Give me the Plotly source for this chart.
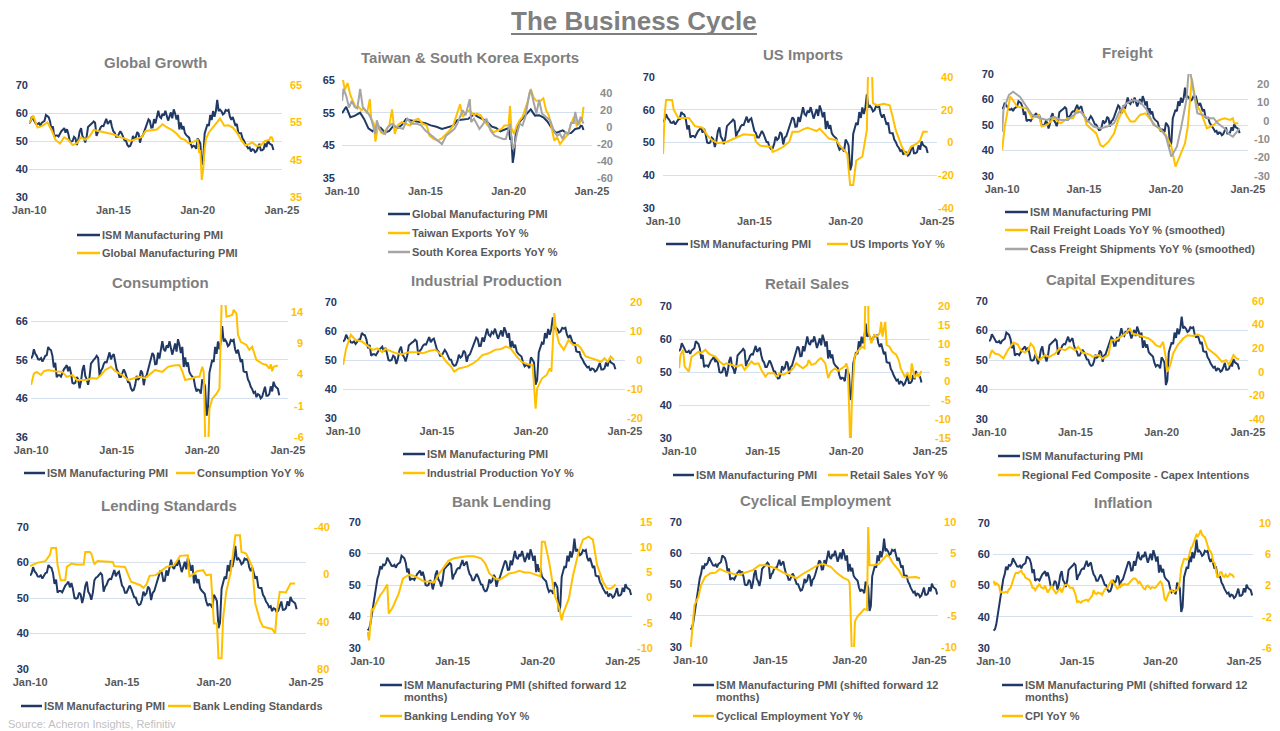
import pandas as pd
import plotly.graph_objects as go

W, H = 1280, 731
NAVY = "#1F3864"
GOLD = "#FFC000"
GREY = "#A5A5A5"
RGREY = "#8C8C8C"
GRID = "#D5E0EE"
TXT = "#595959"
TTL = "#7F7F7F"
FONT = "Liberation Sans, Arial, sans-serif"

# ---------------- data ----------------
# ISM Manufacturing PMI, monthly Jan-2009 .. Jul-2024
ism_start = "2009-01-01"
ism = [35.6, 36.0, 37.5, 40.5, 43.5, 45.5, 48.5, 52.0, 53.5, 56.0, 55.0, 56.5,
       56.3, 57.0, 58.7, 57.5, 57.0, 56.1, 56.0, 56.4, 55.5, 56.5, 57.0, 57.2,
       59.3, 58.7, 58.5, 57.0, 54.0, 55.2, 51.5, 52.0, 52.0, 51.6, 52.8, 53.5,
       54.0, 54.6, 53.0, 54.2, 52.5, 50.0, 49.8, 50.0, 51.5, 51.0, 48.6, 50.4,
       53.4, 54.6, 51.8, 51.0, 49.5, 51.5, 55.0, 55.7, 56.0, 56.4, 57.0, 56.5,
       51.8, 53.2, 53.7, 54.9, 55.4, 55.3, 56.4, 57.9, 56.1, 57.0, 57.4, 55.1,
       53.5, 52.9, 51.5, 51.5, 52.8, 53.5, 52.7, 51.1, 50.2, 50.1, 48.6, 48.0,
       48.2, 49.5, 51.8, 50.8, 51.3, 53.2, 52.6, 49.4, 51.5, 51.9, 53.2, 54.5,
       56.0, 57.7, 57.2, 54.8, 54.9, 57.8, 56.3, 58.8, 60.8, 58.7, 58.2, 59.7,
       59.1, 60.8, 59.3, 57.3, 58.7, 60.2, 58.1, 61.3, 59.8, 57.7, 59.3, 54.1,
       56.6, 54.2, 55.3, 52.8, 52.1, 51.7, 51.2, 49.1, 47.8, 48.3, 48.1, 47.2,
       50.9, 50.1, 49.1, 41.5, 43.1, 52.6, 54.2, 56.0, 55.4, 59.3, 57.5, 60.7,
       58.7, 60.8, 64.7, 60.7, 61.2, 60.6, 59.5, 59.9, 61.1, 60.8, 61.1, 58.7,
       57.6, 58.6, 57.1, 55.4, 56.1, 53.0, 52.8, 52.8, 50.9, 50.2, 49.0, 48.4,
       47.4, 47.7, 46.3, 47.1, 46.9, 46.0, 46.4, 47.6, 49.0, 46.7, 46.7, 47.1,
       49.1, 47.8, 50.3, 49.2, 48.7, 48.5, 46.8]

# CPI YoY %, monthly Jan-2010 .. Jun-2024
cpi_start = "2010-01-01"
cpi = [2.6, 2.1, 2.3, 2.2, 2.0, 1.1, 1.2, 1.1, 1.1, 1.2, 1.1, 1.5,
       1.6, 2.1, 2.7, 3.2, 3.6, 3.6, 3.6, 3.8, 3.9, 3.5, 3.4, 3.0,
       2.9, 2.9, 2.7, 2.3, 1.7, 1.7, 1.4, 1.7, 2.0, 2.2, 1.8, 1.7,
       1.6, 2.0, 1.5, 1.1, 1.4, 1.8, 2.0, 1.5, 1.2, 1.0, 1.2, 1.5,
       1.6, 1.1, 1.5, 2.0, 2.1, 2.1, 2.0, 1.7, 1.7, 1.7, 1.3, 0.8,
       -0.1, 0.0, -0.1, -0.2, 0.0, 0.1, 0.2, 0.2, 0.0, 0.2, 0.5, 0.7,
       1.4, 1.0, 0.9, 1.1, 1.0, 1.0, 0.8, 1.1, 1.5, 1.6, 1.7, 2.1,
       2.5, 2.7, 2.4, 2.2, 1.9, 1.6, 1.7, 1.9, 2.2, 2.0, 2.2, 2.1,
       2.1, 2.2, 2.4, 2.5, 2.8, 2.9, 2.9, 2.7, 2.3, 2.5, 2.2, 1.9,
       1.6, 1.5, 1.9, 2.0, 1.8, 1.6, 1.8, 1.7, 1.7, 1.8, 2.1, 2.3,
       2.5, 2.3, 1.5, 0.3, 0.1, 0.6, 1.0, 1.3, 1.4, 1.2, 1.2, 1.4,
       1.4, 1.7, 2.6, 4.2, 5.0, 5.4, 5.4, 5.3, 5.4, 6.2, 6.8, 7.0,
       7.5, 7.9, 8.5, 8.3, 8.6, 9.1, 8.5, 8.3, 8.2, 7.7, 7.1, 6.5,
       6.4, 6.0, 5.0, 4.9, 4.0, 3.0, 3.2, 3.7, 3.7, 3.2, 3.1, 3.4,
       3.1, 3.2, 3.5, 3.4, 3.3, 3.0]

gpmi_dates = ["2010-01","2010-04","2010-07","2010-10","2011-02","2011-05","2011-08","2011-11","2012-02","2012-05","2012-08","2012-11","2013-02","2013-05","2013-08","2013-11","2014-02","2014-06","2014-10","2015-01","2015-05","2015-09","2016-01","2016-05","2016-09","2016-12","2017-04","2017-08","2017-12","2018-03","2018-07","2018-10","2019-01","2019-04","2019-07","2019-10","2020-01","2020-02","2020-03","2020-04","2020-05","2020-06","2020-07","2020-09","2020-12","2021-03","2021-05","2021-08","2021-11","2022-02","2022-05","2022-08","2022-11","2023-01","2023-04","2023-07","2023-10","2024-01","2024-04","2024-05","2024-06","2024-07"]
gpmi = [54.8,56.8,53.6,54.0,55.0,53.0,50.2,49.3,51.0,50.3,48.9,49.4,51.0,50.3,51.2,53.0,52.7,52.4,52.2,51.8,51.1,50.7,50.0,50.4,51.0,52.7,52.8,53.1,54.5,53.7,52.9,52.0,50.7,50.3,49.3,49.8,50.3,47.1,47.3,39.6,42.4,47.8,50.6,52.3,53.8,55.0,56.0,54.1,54.2,53.6,52.3,50.3,48.8,49.1,49.6,48.7,48.8,50.0,50.3,51.0,50.9,49.7]

tw_dates = ["2010-01","2010-03","2010-05","2010-07","2010-09","2010-11","2011-01","2011-03","2011-05","2011-07","2011-09","2011-10","2011-12","2012-01","2012-03","2012-05","2012-07","2012-09","2012-11","2013-01","2013-03","2013-05","2013-08","2013-11","2014-02","2014-05","2014-08","2014-11","2015-02","2015-04","2015-07","2015-10","2016-01","2016-04","2016-07","2016-09","2016-11","2017-02","2017-04","2017-07","2017-09","2017-12","2018-02","2018-05","2018-07","2018-10","2018-12","2019-02","2019-05","2019-08","2019-10","2020-01","2020-02","2020-03","2020-05","2020-07","2020-09","2020-11","2021-01","2021-03","2021-05","2021-07","2021-09","2021-12","2022-02","2022-04","2022-06","2022-08","2022-10","2022-12","2023-02","2023-04","2023-06","2023-08","2023-10","2023-12","2024-02","2024-04","2024-06","2024-07"]
tw = [62,44,52,38,30,23,24,20,22,16,33,10,4,-17,2,-6,-8,-2,2,21,-8,2,6,4,2,8,10,4,2,-10,-14,-16,-13,-8,-3,2,12,27,12,18,20,14,16,14,8,2,-2,-6,-4,-2,2,2,25,-1,-8,2,8,12,22,31,45,35,31,31,34,20,14,0,-16,-12,-20,-16,-12,-8,4,12,2,4,10,24]

kr_dates = ["2010-01","2010-02","2010-04","2010-06","2010-08","2010-10","2010-12","2011-02","2011-04","2011-06","2011-08","2011-10","2012-01","2012-02","2012-04","2012-06","2012-08","2012-10","2013-01","2013-04","2013-09","2013-12","2014-03","2014-07","2014-10","2015-01","2015-04","2015-07","2015-10","2016-01","2016-04","2016-07","2016-10","2016-12","2017-02","2017-04","2017-06","2017-09","2017-10","2017-12","2018-02","2018-04","2018-06","2018-09","2018-12","2019-03","2019-06","2019-09","2019-11","2020-01","2020-02","2020-04","2020-05","2020-07","2020-09","2020-11","2021-01","2021-04","2021-05","2021-07","2021-09","2021-11","2022-01","2022-04","2022-07","2022-10","2022-12","2023-02","2023-04","2023-06","2023-08","2023-10","2023-12","2024-01","2024-03","2024-05","2024-07"]
kr = [31,45,37,23,31,24,22,45,23,20,16,10,-8,8,-2,-6,-8,0,4,0,-2,10,4,4,2,-4,-8,-12,-16,-20,-10,-6,-2,4,12,20,14,33,6,10,4,-2,2,10,-4,-10,-12,-14,-14,-2,4,-25,-24,-8,4,2,12,40,44,30,16,32,16,12,8,-6,-10,-8,-14,-6,-8,5,5,18,3,12,4]

imp_dates = ["2010-01","2010-02","2010-03","2010-07","2010-08","2010-11","2011-06","2011-10","2012-03","2012-06","2012-09","2013-01","2013-07","2014-02","2014-06","2015-01","2015-02","2015-05","2015-12","2016-01","2016-04","2016-08","2016-12","2017-02","2017-06","2017-09","2017-12","2018-03","2018-06","2018-08","2018-11","2019-02","2019-07","2019-09","2020-02","2020-04","2020-06","2020-08","2020-12","2021-03","2021-04","2021-06","2021-07","2021-10","2022-02","2022-06","2022-08","2022-10","2023-02","2023-05","2023-08","2023-12","2024-02","2024-04","2024-07"]
imp = [-7,17,26,26,20,15,15,10,9,4.5,1.5,-0.5,0.5,3.5,5,4.5,0.5,-2,-2.6,-5.7,-4.7,-2.6,0.5,6.5,6.5,8,9,8,7,8.5,5.5,2.4,1.4,-1.6,-6.7,-26,-26,-11,-8.7,7.5,55,55,24,22.7,23.7,22.7,15.6,7.5,-2.6,-7.7,-2.6,-0.6,1.4,6.5,6.5]

rail_dates = ["2010-01","2010-03","2010-07","2010-09","2010-12","2011-07","2011-11","2012-04","2012-06","2012-10","2013-03","2013-08","2014-01","2014-05","2014-08","2015-01","2015-03","2015-07","2015-10","2016-01","2016-03","2016-07","2016-11","2017-02","2017-06","2017-08","2017-11","2018-02","2018-06","2018-10","2019-01","2019-05","2019-09","2020-01","2020-05","2020-08","2020-11","2021-03","2021-05","2021-08","2021-11","2022-03","2022-07","2022-12","2023-04","2023-08","2023-12","2024-02","2024-03","2024-06"]
rail = [-16,-3.2,13,11.2,7.6,6.7,1.3,3.1,-3.2,-2.3,1.3,-1.4,1.3,1.3,5.8,3.1,-2.3,-5.1,-6.9,-13.2,-14.1,-11.4,-6.9,0.4,6.7,3.1,-0.5,-0.5,3.1,4,1.3,-2.3,-5.1,-7.8,-14.1,-24.9,-19.5,-12.3,-3.2,22.9,9.4,4,-4.2,-2.3,0.4,1.3,0.4,1.3,-1.4,-1.4]

cass_dates = ["2010-01","2010-02","2010-06","2010-09","2011-02","2011-07","2011-11","2012-05","2012-10","2013-03","2013-08","2014-01","2014-07","2014-11","2015-03","2015-08","2016-01","2016-06","2016-11","2017-03","2017-08","2018-01","2018-06","2018-11","2019-04","2019-09","2020-01","2020-05","2020-09","2020-12","2021-04","2021-06","2021-09","2021-12","2022-04","2022-08","2022-12","2023-03","2023-08","2023-12","2024-02","2024-05","2024-07"]
cass = [-6,5.8,13.9,15.7,13,7.6,3.1,1.3,0.4,2.2,0.4,0.4,4,4.9,0.4,-3.2,-4.2,-3.2,-1.4,4.9,9.4,11.2,10.3,5.8,-2.3,-4.2,-8.7,-19.5,-14.1,-4.2,11.2,30,16.6,4,3.1,1.3,1.3,-1.4,-4.2,-7.8,-8.7,-6,-4.2]

cons_dates = ["2010-01","2010-03","2010-05","2010-08","2010-10","2011-01","2011-06","2011-11","2012-02","2012-06","2012-09","2013-01","2013-04","2013-08","2013-11","2014-02","2014-05","2014-09","2014-12","2015-05","2015-09","2015-12","2016-05","2016-09","2017-01","2017-04","2017-09","2018-01","2018-05","2018-09","2018-11","2019-01","2019-05","2019-09","2019-11","2020-01","2020-02","2020-03","2020-04","2020-05","2020-06","2020-08","2020-11","2021-01","2021-03","2021-04","2021-05","2021-06","2021-10","2021-11","2022-01","2022-02","2022-04","2022-08","2022-10","2022-12","2023-03","2023-05","2023-07","2023-10","2023-12","2024-01","2024-02","2024-03","2024-06"]
cons = [2.3,4.1,4.4,3.9,4.5,4.7,4.5,4.4,3.6,3.9,3.1,3.1,3.1,3.4,3.3,3.9,4.7,5.2,4.5,3.9,3.1,3.3,3.6,3.4,4.1,4.7,4.4,5.2,5.4,5.5,4.5,3.1,3.3,3.6,3.6,5.2,4.4,-12,-16,-9,-1.5,0.1,0.9,1.7,22,28,16,13.2,13.5,14.3,13.7,10.3,9.2,8.7,7.9,8.4,6.3,6.0,5.7,5.5,4.9,5.6,4.5,5.2,5.4]

ip_dates = ["2010-01","2010-02","2010-03","2010-06","2010-09","2011-01","2011-05","2011-08","2011-11","2012-02","2012-04","2012-07","2012-11","2013-03","2013-07","2013-12","2014-04","2014-08","2014-12","2015-04","2015-07","2015-10","2015-12","2016-03","2016-08","2016-12","2017-03","2017-06","2017-10","2018-02","2018-06","2018-09","2018-12","2019-04","2019-07","2019-11","2020-02","2020-04","2020-05","2020-08","2020-11","2021-01","2021-02","2021-04","2021-05","2021-07","2021-10","2022-01","2022-04","2022-07","2022-09","2022-12","2023-04","2023-07","2023-10","2023-12","2024-02","2024-04","2024-06"]
ip = [-1.7,1.7,4,8.7,6.9,6.4,4.6,3.5,4,2.7,3.8,3.1,2.3,2,2.7,2.7,2.3,3.1,3.5,1.7,-0.6,-2.3,-4,-2.9,-2.3,-1.2,0,1.7,2.3,3.5,3.8,4.6,4,1.2,-0.6,-1.5,-1.7,-16.8,-9.8,-6.4,-5.2,-2.9,-4.0,16.2,10.4,5.8,3.5,6.9,5.2,5.2,4,1.2,0.6,0,-0.6,0.6,-0.6,1.2,0]

ret_dates = ["2010-01","2010-02","2010-04","2010-05","2010-08","2010-10","2010-12","2011-03","2011-05","2011-08","2011-10","2011-12","2012-03","2012-06","2012-09","2012-11","2013-03","2013-06","2013-10","2013-12","2014-03","2014-05","2014-07","2014-10","2014-12","2015-03","2015-05","2015-09","2015-11","2016-01","2016-04","2016-06","2016-09","2016-11","2017-01","2017-04","2017-06","2017-09","2017-10","2017-12","2018-03","2018-05","2018-07","2018-10","2018-12","2019-02","2019-05","2019-07","2019-10","2019-12","2020-01","2020-02","2020-03","2020-04","2020-05","2020-06","2020-07","2020-09","2020-12","2021-02","2021-03","2021-04","2021-05","2021-07","2021-09","2021-11","2022-01","2022-02","2022-03","2022-05","2022-06","2022-08","2022-10","2023-01","2023-03","2023-04","2023-07","2023-09","2023-11","2023-12","2024-02","2024-04","2024-05","2024-07"]
ret = [3.5,7,8.4,4,2.6,6.6,7,7.9,7.5,8.4,7.5,7,6.6,5.3,4.4,4.8,4.4,4,4.4,3.1,4.4,5.3,4.6,4.8,3.1,1.3,2.2,2.2,1.3,2.2,1.8,2.2,2.8,3.5,4.8,4,3.5,4.4,5.7,4.4,4.8,5.7,6.2,4.8,0.9,2.6,3.5,2.8,3.5,4,4.8,3.5,-6,-20,-6,2,6.6,7.9,9.2,8.8,30,50,13.2,10.1,12.3,11.9,12.8,15.8,11.9,15.8,9.7,9.2,7.9,7,5.3,3.5,1.3,2.2,0.4,4.8,0.9,2.2,1.3,2.8]

capex_dates = ["2010-01","2010-03","2010-05","2010-08","2010-11","2011-02","2011-06","2011-09","2011-11","2012-02","2012-04","2012-06","2012-08","2012-10","2012-12","2013-04","2013-07","2013-11","2014-02","2014-06","2014-09","2015-01","2015-03","2015-06","2015-11","2016-01","2016-05","2016-08","2016-12","2017-02","2017-05","2017-09","2017-12","2018-03","2018-05","2018-09","2018-12","2019-04","2019-07","2019-09","2019-12","2020-02","2020-04","2020-05","2020-07","2020-09","2020-12","2021-04","2021-07","2021-11","2022-02","2022-06","2022-09","2022-12","2023-03","2023-07","2023-10","2023-12","2024-03","2024-05","2024-07"]
capex = [11.3,18.3,15.5,14.6,11.3,18.3,24.8,23.1,18.3,16.3,18.3,23.9,21.1,12.7,9.9,14.1,12.7,15.5,19.7,18.3,21.1,18.3,21.1,16.3,14.6,12.7,14.1,11.3,14.1,26.8,26.8,29.6,32.4,36.6,32.4,31,29.6,28.2,25.4,22.5,21.1,25.4,11.3,0,5.6,15.5,22.5,28.2,31,30.4,31.5,29.6,19.7,16.9,14.1,8.5,9.9,5.6,14.1,11.3,10.7]

lend_dates = ["2010-01","2010-03","2010-06","2010-11","2011-02","2011-03","2011-06","2011-07","2011-09","2011-12","2012-01","2012-04","2012-07","2012-12","2013-01","2013-04","2013-05","2013-07","2013-09","2014-07","2014-08","2015-03","2015-07","2016-01","2016-03","2016-05","2016-07","2016-11","2017-03","2017-06","2017-11","2018-03","2018-08","2018-09","2019-02","2019-06","2019-08","2019-11","2020-01","2020-03","2020-04","2020-06","2020-07","2020-09","2020-12","2021-03","2021-06","2021-07","2021-10","2022-02","2022-04","2022-07","2022-09","2023-03","2023-05","2023-06","2023-08","2023-12","2024-03","2024-06"]
lend = [-7,-8.3,-9.9,-11.1,-16.7,-22.3,-22.3,-7.7,4.9,4.9,-6.3,-9.1,-8.3,-8.3,-18.9,-18.9,-17.5,-8.5,-11.3,-10.5,-6.9,-6.3,6.3,9.2,11.4,8.6,1.3,0.7,-3.5,-6.3,-7.7,-15.6,-16.1,2.1,-2.6,-3.5,0.7,0.2,41.5,41.5,71,71,37.2,14.8,-2.1,-33,-33,-18.9,-17.5,-6.3,24.6,38.7,44.3,46.2,49.9,33,14.8,15.3,7.8,7.8]

bl_dates = ["2010-01","2010-02","2010-04","2010-05","2010-07","2010-10","2010-12","2011-03","2011-04","2011-07","2011-11","2012-02","2012-06","2012-09","2013-01","2013-05","2013-08","2013-12","2014-03","2014-07","2014-10","2015-02","2015-07","2015-11","2016-04","2016-09","2016-12","2017-03","2017-07","2017-10","2018-02","2018-05","2018-09","2018-12","2019-04","2019-07","2019-11","2020-03","2020-04","2020-06","2020-09","2020-11","2021-01","2021-04","2021-06","2021-07","2021-11","2022-02","2022-06","2022-09","2023-01","2023-04","2023-07","2023-11","2024-02","2024-05","2024-08"]
bl = [-6.8,-8.5,-2.2,-2.5,-1.2,0.5,1.2,2.6,-3.2,-1.8,0.8,3.8,4.5,4.4,3.8,3.2,3.2,3.0,4.5,6.2,7.3,7.8,8.0,8.2,8.2,7.8,6.8,4.8,3.8,3.5,4.2,4.8,5.0,5.3,5.0,5.0,4.6,4.2,11.1,11.1,7.2,4.2,0.5,-1.8,-4.5,-3.2,-0.2,4.5,9.1,11.5,12.1,11.5,6.5,3.2,1.8,1.8,2.6]

cyc_dates = ["2010-01","2010-02","2010-04","2010-07","2010-09","2010-12","2011-04","2011-08","2011-11","2012-03","2012-07","2012-11","2013-02","2013-07","2013-12","2014-05","2014-10","2015-02","2015-06","2015-11","2016-04","2016-09","2017-01","2017-05","2017-10","2018-01","2018-05","2018-08","2018-11","2019-03","2019-08","2019-12","2020-01","2020-03","2020-04","2020-05","2020-07","2020-10","2020-12","2021-02","2021-03","2021-04","2021-07","2021-11","2022-02","2022-05","2022-07","2022-10","2023-02","2023-05","2023-09","2024-01","2024-03","2024-06"]
cyc = [-10.5,-7.5,-3.3,-2.0,-0.1,1.2,1.8,1.9,2.5,2.1,1.8,1.6,1.6,1.9,2.3,3.1,3.1,2.8,2.5,1.9,1.5,1.0,1.6,2.1,2.7,3.1,3.3,3.1,2.8,1.9,1.1,0.7,0.2,-13,-12,-5.9,-5.1,-4.4,-3.9,-4.1,9.2,3.1,3.1,3.3,4.1,4.7,4.4,3.3,2.3,1.2,1.1,1.1,1.2,1.0]

x_tick_vals = ["2010-01-01", "2015-01-01", "2020-01-01", "2025-01-01"]
x_tick_text = ["Jan-10", "Jan-15", "Jan-20", "Jan-25"]

# ---------------- helpers ----------------
def md(lst):
    return pd.to_datetime([s + "-01" for s in lst])

def monthly(start, n):
    return pd.date_range(start, periods=n, freq="MS")

for a, b in [(gpmi_dates, gpmi), (tw_dates, tw), (kr_dates, kr), (imp_dates, imp), (rail_dates, rail),
             (cass_dates, cass), (cons_dates, cons), (ip_dates, ip), (ret_dates, ret), (capex_dates, capex),
             (lend_dates, lend), (bl_dates, bl), (cyc_dates, cyc)]:
    assert len(a) == len(b), (len(a), len(b))

ism_x_all = monthly(ism_start, len(ism))
ISM = (ism_x_all[12:], ism[12:])
ISM_FWD = (monthly("2010-01-01", len(ism)), ism)
CPI = (monthly(cpi_start, len(cpi)), cpi)

XR = ["2009-12-30", "2025-01-03"]
XR_FWD = ["2009-12-20", "2025-07-20"]
Y_STD = dict(range=[30, 70], ticks=[30, 40, 50, 60, 70])

panels = [
    dict(title="Global Growth", tpos=(155, 63), box=(29, 282, 85, 197), xr=XR,
         left=Y_STD, right=dict(range=[35, 65], ticks=[35, 45, 55, 65], color=GOLD), gapL=1, gapR=10,
         series=[(ISM, NAVY, "L", "ISM Manufacturing PMI"), ((md(gpmi_dates), gpmi), GOLD, "R", "Global Manufacturing PMI")],
         legend=[(77, 100, 235, "ISM Manufacturing PMI", NAVY), (77, 100, 253, "Global Manufacturing PMI", GOLD)]),
    dict(title="Taiwan & South Korea Exports", tpos=(470, 58), box=(342, 592, 80, 178), xr=XR,
         left=dict(range=[35, 65], ticks=[35, 45, 55, 65]),
         right=dict(range=[-60, 55.6], ticks=[-60, -40, -20, 0, 20, 40], color=RGREY), gapL=9, gapR=7,
         series=[((md(gpmi_dates), gpmi), NAVY, "L", "Global Manufacturing PMI"),
                 ((md(tw_dates), tw), GOLD, "R", "Taiwan Exports YoY %"),
                 ((md(kr_dates), kr), GREY, "R", "South Korea Exports YoY %")],
         legend=[(388, 410, 214, "Global Manufacturing PMI", NAVY), (388, 410, 233, "Taiwan Exports YoY %", GOLD),
                 (388, 410, 252, "South Korea Exports YoY %", GREY)]),
    dict(title="US Imports", tpos=(803, 54), box=(663, 937, 77, 208), xr=XR,
         left=Y_STD, right=dict(range=[-40, 40], ticks=[-40, -20, 0, 20, 40], color=GOLD), gapL=10, gapR=2,
         series=[(ISM, NAVY, "L", "ISM Manufacturing PMI"), ((md(imp_dates), imp), GOLD, "R", "US Imports YoY %")],
         legend=[(666, 688, 244, "ISM Manufacturing PMI", NAVY), (827, 848, 244, "US Imports YoY %", GOLD)]),
    dict(title="Freight", tpos=(1127, 53), box=(1002, 1248, 74, 176), xr=XR,
         left=Y_STD, right=dict(range=[-30, 25.3], ticks=[-30, -20, -10, 0, 10, 20], color=RGREY), gapL=10, gapR=8,
         series=[(ISM, NAVY, "L", "ISM Manufacturing PMI"),
                 ((md(rail_dates), rail), GOLD, "R", "Rail Freight Loads YoY % (smoothed)"),
                 ((md(cass_dates), cass), GREY, "R", "Cass Freight Shipments YoY % (smoothed)")],
         legend=[(1005, 1028, 212, "ISM Manufacturing PMI", NAVY),
                 (1005, 1028, 230, "Rail Freight Loads YoY % (smoothed)", GOLD),
                 (1005, 1028, 249, "Cass Freight Shipments YoY % (smoothed)", GREY)]),
    dict(title="Consumption", tpos=(160, 282), box=(31, 288, 305, 437), xr=XR,
         left=dict(range=[36, 70.15], ticks=[36, 46, 56, 66]),
         right=dict(range=[-6, 15.07], ticks=[-6, -1, 4, 9, 14], color=GOLD), gapL=5, gapR=5,
         series=[(ISM, NAVY, "L", "ISM Manufacturing PMI"), ((md(cons_dates), cons), GOLD, "R", "Consumption YoY %")],
         legend=[(24, 45, 473, "ISM Manufacturing PMI", NAVY), (176, 195, 473, "Consumption YoY %", GOLD)]),
    dict(title="Industrial Production", tpos=(486, 281), box=(343, 625, 302, 418), xr=XR,
         left=Y_STD, right=dict(range=[-20, 20], ticks=[-20, -10, 0, 10, 20], color=GOLD), gapL=8, gapR=4,
         series=[(ISM, NAVY, "L", "ISM Manufacturing PMI"), ((md(ip_dates), ip), GOLD, "R", "Industrial Production YoY %")],
         legend=[(403, 425, 454, "ISM Manufacturing PMI", NAVY), (403, 425, 473, "Industrial Production YoY %", GOLD)]),
    dict(title="Retail Sales", tpos=(807, 283), box=(679, 930, 306, 438), xr=XR,
         left=Y_STD, right=dict(range=[-15, 20], ticks=[-15, -10, -5, 0, 5, 10, 15, 20], color=GOLD), gapL=9, gapR=7,
         series=[(ISM, NAVY, "L", "ISM Manufacturing PMI"), ((md(ret_dates), ret), GOLD, "R", "Retail Sales YoY %")],
         legend=[(673, 694, 475, "ISM Manufacturing PMI", NAVY), (828, 848, 475, "Retail Sales YoY %", GOLD)]),
    dict(title="Capital Expenditures", tpos=(1120, 279), box=(989, 1248, 301, 419), xr=XR,
         left=Y_STD, right=dict(range=[-40, 60], ticks=[-40, -20, 0, 20, 40, 60], color=GOLD), gapL=2, gapR=2,
         series=[(ISM, NAVY, "L", "ISM Manufacturing PMI"),
                 ((md(capex_dates), capex), GOLD, "R", "Regional Fed Composite - Capex Intentions")],
         legend=[(998, 1020, 456, "ISM Manufacturing PMI", NAVY),
                 (998, 1020, 475, "Regional Fed Composite - Capex Intentions", GOLD)]),
    dict(title="Lending Standards", tpos=(169, 505), box=(30, 306, 527, 669), xr=XR,
         left=Y_STD, right=dict(range=[80, -40], ticks=[-40, 0, 40, 80], color=GOLD), gapL=3, gapR=10,
         series=[(ISM, NAVY, "L", "ISM Manufacturing PMI"), ((md(lend_dates), lend), GOLD, "R", "Bank Lending Standards")],
         legend=[(21, 42, 706, "ISM Manufacturing PMI", NAVY), (168, 191, 706, "Bank Lending Standards", GOLD)]),
    dict(title="Bank Lending", tpos=(501, 501), box=(367, 632, 522, 648), xr=XR_FWD,
         left=Y_STD, right=dict(range=[-10, 15], ticks=[-10, -5, 0, 5, 10, 15], color=GOLD), gapL=8, gapR=7,
         series=[(ISM_FWD, NAVY, "L", "ISM Manufacturing PMI (shifted forward 12 months)"),
                 ((md(bl_dates), bl), GOLD, "R", "Banking Lending YoY %")],
         legend=[(380, 402, 685, "ISM Manufacturing PMI (shifted forward 12", NAVY), (380, 402, 697, "months)", None),
                 (380, 402, 716, "Banking Lending YoY %", GOLD)]),
    dict(title="Cyclical Employment", tpos=(815, 500), box=(690, 938, 522, 647), xr=XR_FWD,
         left=Y_STD, right=dict(range=[-10, 10], ticks=[-10, -5, 0, 5, 10], color=GOLD), gapL=10, gapR=5,
         series=[(ISM_FWD, NAVY, "L", "ISM Manufacturing PMI (shifted forward 12 months)"),
                 ((md(cyc_dates), cyc), GOLD, "R", "Cyclical Employment YoY %")],
         legend=[(693, 714, 685, "ISM Manufacturing PMI (shifted forward 12", NAVY), (693, 714, 697, "months)", None),
                 (693, 714, 716, "Cyclical Employment YoY %", GOLD)]),
    dict(title="Inflation", tpos=(1123, 502), box=(993, 1253, 523, 648), xr=XR_FWD,
         left=Y_STD, right=dict(range=[-6, 10], ticks=[-6, -2, 2, 6, 10], color=GOLD), gapL=5, gapR=8,
         series=[(ISM_FWD, NAVY, "L", "ISM Manufacturing PMI (shifted forward 12 months)"),
                 (CPI, GOLD, "R", "CPI YoY %")],
         legend=[(1002, 1023, 685, "ISM Manufacturing PMI (shifted forward 12", NAVY), (1002, 1023, 697, "months)", None),
                 (1002, 1023, 716, "CPI YoY %", GOLD)]),
]

XSO = 5     # x tick label standoff
YPAD = 3    # plotly's own gap between y axis and tick labels


def pad_right(labels):
    w = lambda s: sum(333 if c == "-" else 556 for c in s)
    m = max(w(s) for s in labels)
    return ["\u00a0" * int(round((m - w(s)) / 278)) + s for s in labels]


def nm(prefix, i):
    return prefix if i == 1 else f"{prefix}{i}"


fig = go.Figure()
layout = dict(width=W, height=H, autosize=False,
              margin=dict(l=0, r=0, t=0, b=0, pad=0, autoexpand=False),
              paper_bgcolor="white", plot_bgcolor="white", showlegend=False,
              font=dict(family=FONT, color=TXT))
ann, shp = [], []

for k, p in enumerate(panels, 1):
    l, r, t, b = p["box"]
    xid = nm("x", k)
    ylid = nm("y", 2 * k - 1)
    yrid = f"y{2 * k}"
    layout[nm("xaxis", k)] = dict(
        domain=[l / W, r / W], anchor=ylid, type="date", range=p["xr"],
        tickmode="array", tickvals=x_tick_vals, ticktext=x_tick_text,
        showgrid=False, zeroline=False, showline=False, ticks="", automargin=False,
        ticklabelstandoff=XSO, fixedrange=True,
        tickfont=dict(family=FONT, size=11, color=TXT, weight="bold"))
    lo = p["left"]
    layout[nm("yaxis", 2 * k - 1)] = dict(
        domain=[1 - b / H, 1 - t / H], anchor=xid, range=lo["range"],
        tickmode="array", tickvals=lo["ticks"], ticktext=[f"{v:g}" for v in lo["ticks"]],
        showgrid=True, gridcolor=GRID, gridwidth=1, zeroline=False, showline=False, ticks="", automargin=False,
        ticklabelstandoff=max(0, p["gapL"] - YPAD), fixedrange=True,
        tickfont=dict(family=FONT, size=11, color=NAVY, weight="bold"))
    ro = p["right"]
    layout[f"yaxis{2 * k}"] = dict(
        overlaying=ylid, side="right", anchor=xid, range=ro["range"],
        tickmode="array", tickvals=ro["ticks"], ticktext=pad_right([f"{v:g}" for v in ro["ticks"]]),
        showgrid=False, zeroline=False, showline=False, ticks="", automargin=False,
        ticklabelstandoff=max(0, p["gapR"] - YPAD), fixedrange=True,
        tickfont=dict(family=FONT, size=11, color=ro["color"], weight="bold"))
    for (xy, col, side, name) in p["series"]:
        fig.add_trace(go.Scatter(x=xy[0], y=xy[1], mode="lines", name=name,
                                 line=dict(color=col, width=2),
                                 xaxis=xid, yaxis=(ylid if side == "L" else yrid),
                                 showlegend=False, hoverinfo="skip"))
    tx, ty = p["tpos"]
    ann.append(dict(x=tx / W, y=1 - ty / H, xref="paper", yref="paper", showarrow=False,
                    text=f"<b>{p['title']}</b>", xanchor="center", yanchor="middle",
                    font=dict(family=FONT, size=15, color=TTL)))
    for (x0, x1, y, text, col) in p["legend"]:
        if col is not None:
            shp.append(dict(type="line", xref="paper", yref="paper", x0=x0 / W, x1=x1 / W,
                            y0=1 - y / H, y1=1 - y / H, line=dict(color=col, width=2.5)))
        ann.append(dict(x=(x1 + 0.5) / W, y=1 - y / H, xref="paper", yref="paper", showarrow=False,
                        text=f"<b>{text}</b>", xanchor="left", yanchor="middle", borderpad=0,
                        font=dict(family=FONT, size=11, color=TXT)))

# main title with underline
ann.append(dict(x=634 / W, y=1 - 21 / H, xref="paper", yref="paper", showarrow=False,
                text="<b>The Business Cycle</b>", xanchor="center", yanchor="middle",
                font=dict(family=FONT, size=26, color=TTL)))
shp.append(dict(type="line", xref="paper", yref="paper", x0=511 / W, x1=757 / W,
                y0=1 - 34 / H, y1=1 - 34 / H, line=dict(color=TTL, width=2)))
# source
ann.append(dict(x=7 / W, y=1 - 724 / H, xref="paper", yref="paper", showarrow=False,
                text="Source: Acheron Insights, Refinitiv", xanchor="left", yanchor="middle", borderpad=0,
                font=dict(family=FONT, size=11, color="#BFBFBF")))

layout["annotations"] = ann
layout["shapes"] = shp
fig.update_layout(**layout)
fig.write_html("out.html", config={"responsive": False, "displayModeBar": False},
               post_script="document.body.style.margin='0px';document.body.style.overflow='hidden';")
